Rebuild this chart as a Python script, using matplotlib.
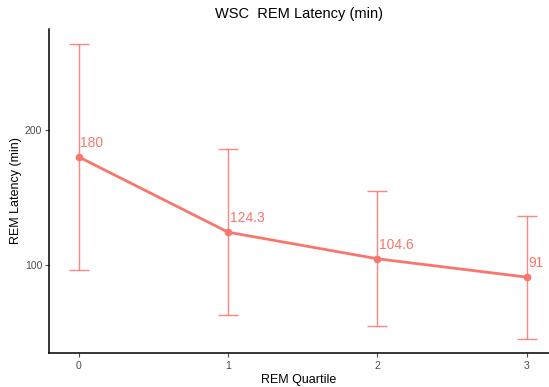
import matplotlib
matplotlib.use("Agg")
import matplotlib.pyplot as plt

quartiles = [0, 1, 2, 3]
latency = [180, 124.3, 104.6, 91]
latency_sd = [84, 61.5, 50, 45.5]
labels = ["180", "124.3", "104.6", "91"]

red = "#F8766D"
plt.rcParams["font.family"] = ["Liberation Sans", "DejaVu Sans"]

fig = plt.figure(figsize=(5.49, 3.87), dpi=100)
ax = fig.add_axes([0.0893, 0.0879, 0.9107, 0.837])

ax.errorbar(quartiles, latency, yerr=latency_sd, fmt="none", ecolor=red,
            elinewidth=1.0, capsize=7, capthick=1.0, alpha=0.85, zorder=2)
ax.plot(quartiles, latency, color=red, lw=2.0, zorder=3)
ax.plot(quartiles, latency, "o", color=red, ms=4.5, zorder=4)
for x, y, t in zip(quartiles, latency, labels):
    ax.annotate(t, (x, y), xytext=(1, 5), textcoords="offset points",
                color=red, fontsize=10, ha="left", va="bottom")

ax.set_xlim(-0.2, 3.15)
ax.set_ylim(34.8, 274.8)
ax.set_xticks(quartiles)
ax.set_yticks([100, 200])
ax.tick_params(axis="both", colors="#4D4D4D", labelsize=7.5, length=3, width=0.8)
ax.tick_params(axis="x", pad=3)
ax.tick_params(axis="y", pad=2)
for s in ["top", "right"]:
    ax.spines[s].set_visible(False)
for s in ["left", "bottom"]:
    ax.spines[s].set_linewidth(1.1)
    ax.spines[s].set_color("black")

ax.set_xlabel("REM Quartile", fontsize=9, labelpad=2)
ax.set_ylabel("REM Latency (min)", fontsize=9, labelpad=2)
ax.set_title("WSC  REM Latency (min)", fontsize=10.5, pad=8)

fig.savefig("out.png", dpi=100)
